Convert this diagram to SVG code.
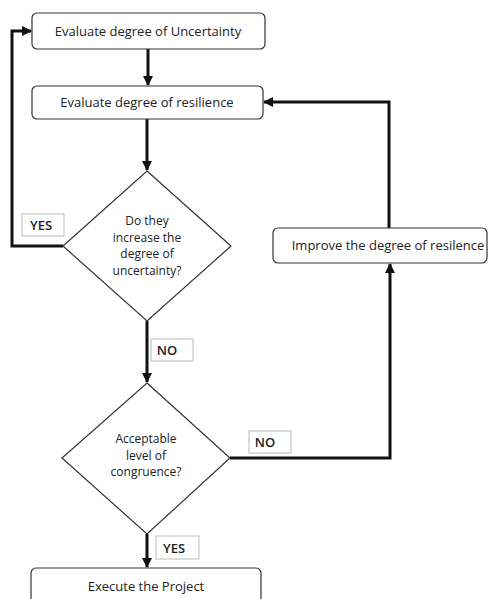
<svg xmlns="http://www.w3.org/2000/svg" width="493" height="599" viewBox="0 0 493 599">
<style>
.box{fill:#fff;stroke:#333;stroke-width:1.2}
.dia{fill:#fff;stroke:#333;stroke-width:1.2}
.lbl{fill:#fff;stroke:#bbb;stroke-width:1}
.t{font-family:"Open Sans","Liberation Sans",sans-serif;font-size:13px;fill:#222;text-anchor:middle}
.td{font-family:"Open Sans","Liberation Sans",sans-serif;font-size:12px;fill:#222;text-anchor:middle}
.tl{font-family:"Open Sans","Liberation Sans",sans-serif;font-size:13px;fill:#222;text-anchor:middle;font-weight:600}
.c{fill:none;stroke:#111;stroke-width:3}
</style>
<defs>
<marker id="ah" viewBox="0 0 10 10" refX="9" refY="5" markerWidth="3.5" markerHeight="3.5" orient="auto" markerUnits="strokeWidth">
<path d="M0,0 L10,5 L0,10 z" fill="#111"/>
</marker>
</defs>
<g id="connectors">
<path class="c" d="M148,49 L148,85" marker-end="url(#ah)"/>
<path class="c" d="M147,119 L147,170" marker-end="url(#ah)"/>
<path class="c" d="M63,246 L12,246 L12,31 L31,31" marker-end="url(#ah)"/>
<path class="c" d="M147,321 L147,382" marker-end="url(#ah)"/>
<path class="c" d="M230,458 L390,458 L390,264" marker-end="url(#ah)"/>
<path class="c" d="M389,228 L389,102 L264,102" marker-end="url(#ah)"/>
<path class="c" d="M147,534 L147,567" marker-end="url(#ah)"/>
</g>
<g id="n1"><rect class="box" x="32" y="13" width="233" height="36" rx="5"/><text class="t" x="148" y="36">Evaluate degree of Uncertainty</text></g>
<g id="n2"><rect class="box" x="32" y="86" width="231" height="33" rx="5"/><text class="t" x="147" y="107">Evaluate degree of resilience</text></g>
<g id="d1"><polygon class="dia" points="147,171 231,246 147,321 63,246"/>
<text class="td" x="147" y="225">Do they</text><text class="td" x="147" y="241.5">increase the</text><text class="td" x="147" y="258">degree of</text><text class="td" x="147" y="274.5">uncertainty?</text></g>
<g id="lyes1"><rect class="lbl" x="22" y="214" width="42" height="22"/><text class="tl" x="41" y="230">YES</text></g>
<g id="lno1"><rect class="lbl" x="151" y="339" width="42" height="22"/><text class="tl" x="167" y="355">NO</text></g>
<g id="n3"><rect class="box" x="273" y="228" width="214" height="35" rx="5"/><text class="t" x="388" y="250">Improve the degree of resilence</text></g>
<g id="d2"><polygon class="dia" points="147,383 230,458 147,534 62,458"/>
<text class="td" x="146" y="443">Acceptable</text><text class="td" x="146" y="459.5">level of</text><text class="td" x="146" y="476">congruence?</text></g>
<g id="lno2"><rect class="lbl" x="249" y="431" width="42" height="22"/><text class="tl" x="265" y="447">NO</text></g>
<g id="lyes2"><rect class="lbl" x="156" y="536" width="43" height="23"/><text class="tl" x="174" y="553">YES</text></g>
<g id="n4"><rect class="box" x="31" y="568" width="230" height="40" rx="5"/><text class="t" x="146" y="591">Execute the Project</text></g>
</svg>
